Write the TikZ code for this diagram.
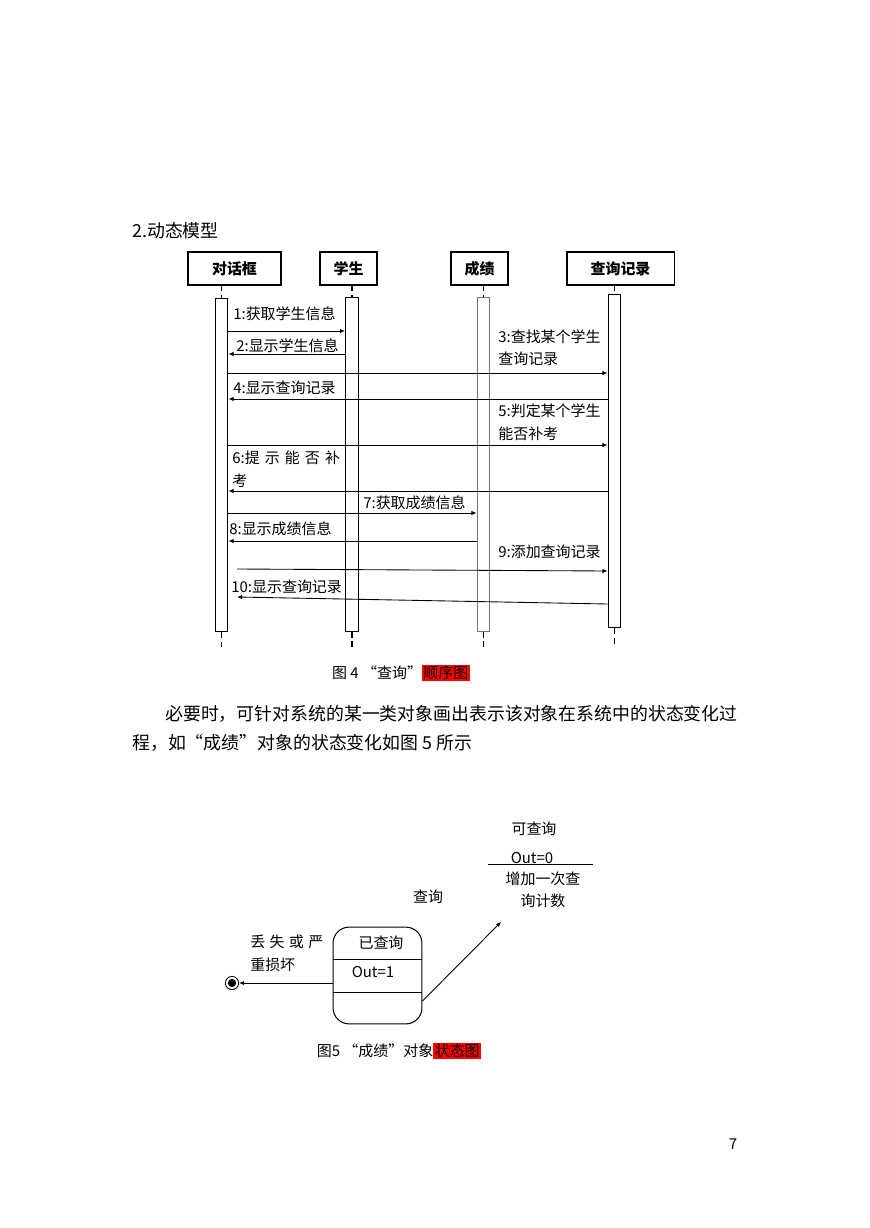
\documentclass[tikz,border=0pt]{standalone}
\usepackage{fontspec}
\setmainfont{Noto Sans CJK SC}
\usetikzlibrary{arrows.meta,positioning}
\newcommand{\fsmall}{\fontsize{10.3}{12}\selectfont}
\newcommand{\fbody}{\fontsize{12.3}{14}\selectfont}
\setlength{\fboxsep}{1pt}

\begin{document}
\begin{tikzpicture}[
    x=0.2417mm, y=-0.2417mm,
    head box/.style={
        draw,
        line width=0.8pt,
        minimum height=8mm,
        inner sep=0pt,
        font=\fsmall\bfseries
    },
    act bar/.style={
        draw=#1,
        fill=white,
        line width=0.7pt,
        minimum width=3.1mm,
        minimum height=80.7mm,
        inner sep=0pt
    },
    act bar/.default=black,
    life line/.style={
        line width=0.8pt,
        dash pattern=on 4pt off 2.5pt
    },
    msg/.style={
        -{Latex[length=3.5pt,width=3pt]},
        line width=0.6pt
    },
    msg label/.style={font=\fsmall, anchor=west, inner sep=0pt},
    body text/.style={font=\fbody, anchor=west, inner sep=0pt},
    state box/.style={
        draw,
        rounded corners=3.9mm,
        line width=0.7pt,
        minimum width=21.5mm,
        minimum height=23.4mm
    },
    state text/.style={font=\fsmall, inner sep=0pt}
]
\useasboundingbox (0,0) rectangle (869,1228);

% Section title
\node[body text] (title) at (132,231) {2.动态模型};

% === SEQUENCE DIAGRAM ===
% Object heads
\node[head box, minimum width=22.5mm] (dlg) at (234.5,268.5) {对话框};
\node[head box, minimum width=13.8mm] (stu) at (348.5,268.5) {学生};
\node[head box, minimum width=13.8mm] (score) at (479.5,268.5) {成绩};
\node[head box, minimum width=25.9mm] (rec) at (620.5,268.5) {查询记录};

% Activation bars
\node[act bar] (bDlg) at (221.5,465) {};
\node[act bar] (bStu) at (352,464.5) {};
\node[act bar=black!55] (bScore) at (483.5,464.5) {};
\node[act bar] (bRec) at (614.5,461) {};

% Lifelines
\draw[life line] (bDlg.north |- dlg.south) -- (bDlg.north);
\draw[life line] (bStu.north |- stu.south) -- (bStu.north);
\draw[life line] (bScore.north |- score.south) -- (bScore.north);
\draw[life line] (bRec.north |- rec.south) -- (bRec.north);
\coordinate (lifeEnd) at (0,647);
\coordinate (recEnd) at (0,644);
\draw[life line] (bDlg.south) -- (bDlg.south |- lifeEnd);
\draw[life line] (bStu.south) -- (bStu.south |- lifeEnd);
\draw[life line] (bScore.south) -- (bScore.south |- lifeEnd);
\draw[life line] (bRec.south) -- (bRec.south |- recEnd);

% Message levels
\coordinate (y1) at (0,331);
\coordinate (y2) at (0,354);
\coordinate (y3) at (0,373);
\coordinate (y4) at (0,399);
\coordinate (y5) at (0,445);
\coordinate (y6) at (0,491);
\coordinate (y7) at (0,513);
\coordinate (y8) at (0,541);
\coordinate (m9a) at (237,569);
\coordinate (m9b) at (0,571);
\coordinate (m10a) at (0,604);
\coordinate (m10b) at (237,597);

% Messages
\draw[msg] (bDlg.east |- y1) -- (bStu.west |- y1);
\draw[msg] (bStu.west |- y2) -- (bDlg.east |- y2);
\draw[msg] (bDlg.east |- y3) -- (bRec.west |- y3);
\draw[msg] (bRec.west |- y4) -- (bDlg.east |- y4);
\draw[msg] (bDlg.east |- y5) -- (bRec.west |- y5);
\draw[msg] (bRec.west |- y6) -- (bDlg.east |- y6);
\draw[msg] (bDlg.east |- y7) -- (bScore.west |- y7);
\draw[msg] (bScore.west |- y8) -- (bDlg.east |- y8);
\draw[msg] (m9a) -- (bRec.west |- m9b);
\draw[msg] (bRec.west |- m10a) -- (m10b);

% Message labels
\node[msg label] (l1) at (233,314) {1:获取学生信息};
\node[msg label] (l2) at (236,346) {2:显示学生信息};
\node[msg label] (l3) at (498,337) {3:查找某个学生};
\node[msg label] (l3b) at (498,359) {查询记录};
\node[msg label] (l4) at (233,388) {4:显示查询记录};
\node[msg label] (l5) at (498,411) {5:判定某个学生};
\node[msg label] (l5b) at (498,434) {能否补考};
\node[msg label] (l6) at (232,458) {6:提\hspace{3.5pt}示\hspace{3.5pt}能\hspace{3.5pt}否\hspace{3.5pt}补};
\node[msg label] (l6b) at (232,481) {考};
\node[msg label] (l7) at (363,503) {7:获取成绩信息};
\node[msg label] (l8) at (229,529) {8:显示成绩信息};
\node[msg label] (l9) at (498,552) {9:添加查询记录};
\node[msg label] (l10) at (231,587) {10:显示查询记录};

% Caption 4
\node[font=\fsmall, inner sep=0pt] (cap4) at (401,673) {图 4 “查询”\colorbox{red}{顺序图}};

% Paragraph
\node[body text] (par1) at (165,714) {必要时，可针对系统的某一类对象画出表示该对象在系统中的状态变化过};
\node[body text] (par2) at (132,743) {程，如“成绩”对象的状态变化如图 5 所示};

% === STATE DIAGRAM ===
% State: queried
\node[state box] (queried) at (377.5,975.5) {};
\coordinate (q1) at (0,959);
\coordinate (q2) at (0,992);
\draw[line width=0.6pt] (queried.west |- q1) -- (queried.east |- q1);
\draw[line width=0.6pt] (queried.west |- q2) -- (queried.east |- q2);
\node[state text] (qName) at (381,943) {已查询};
\node[state text] (qVar) at (373,972) {Out=1};

% State: available (open form)
\node[state text] (aName) at (534,829) {可查询};
\node[state text] (aVar) at (532,858) {Out=0};
\draw[line width=0.7pt] (488,864) -- (593,864);
\node[state text] (aAct) at (543,879) {增加一次查};
\node[state text] (aAct2) at (543,901) {询计数};

% Final state
\node[circle, draw, line width=0.6pt, minimum size=3.2mm, inner sep=0pt] (final) at (232,983) {};
\node[circle, fill, minimum size=2mm, inner sep=0pt] at (final) {};

% Transitions
\coordinate (tQ) at (0,1001);
\coordinate (tTip) at (501,922);
\coordinate (tF) at (0,983);
\draw[msg] (queried.east |- tQ) -- (tTip);
\draw[msg] (queried.west |- tF) -- (final.east);
\node[state text] (tLabel) at (428,897) {查询};
\node[msg label] (fLabel) at (250,942) {丢\hspace{3pt}失\hspace{3pt}或\hspace{3pt}严};
\node[msg label] (fLabel2) at (250,965) {重损坏};

% Caption 5
\node[font=\fsmall, inner sep=0pt] (cap5) at (399,1051) {图5 “成绩”对象\colorbox{red}{状态图}};

% Page number
\node[font=\fsmall, inner sep=0pt] (page) at (733,1144) {7};

\end{tikzpicture}
\end{document}
